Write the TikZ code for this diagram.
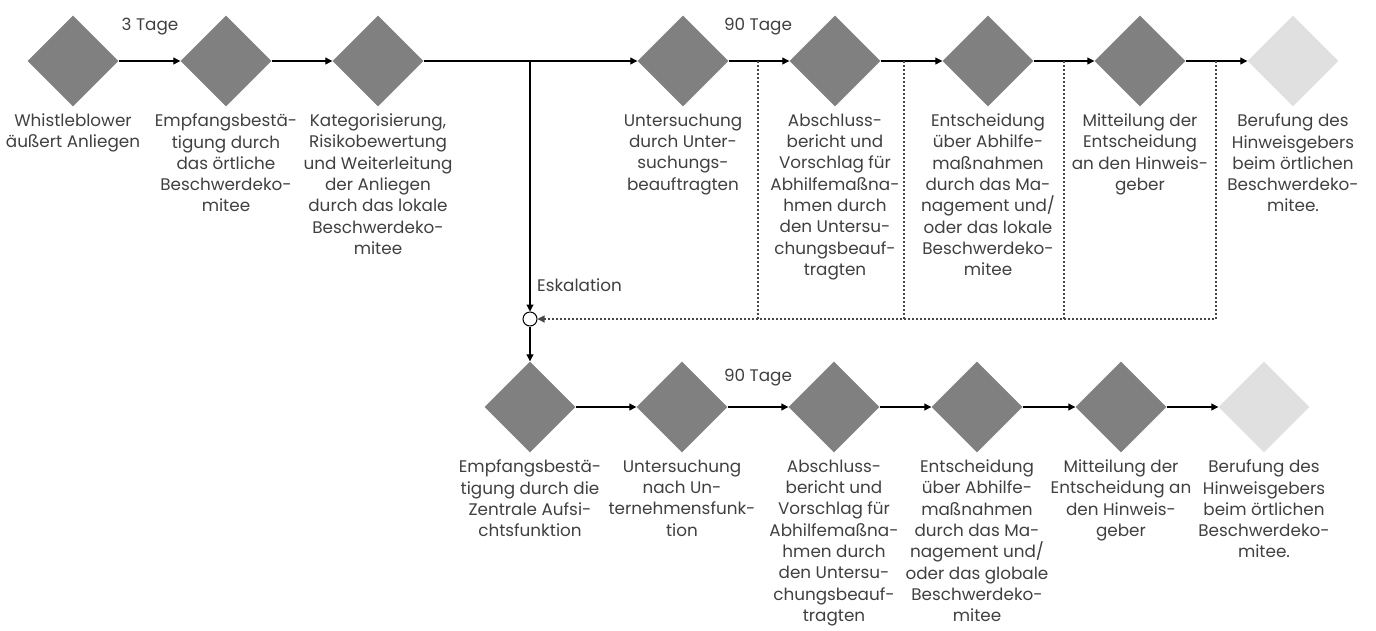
\documentclass[tikz,border=0pt]{standalone}
\usepackage{fontspec}
\setmainfont{Poppins}
\usetikzlibrary{shapes.geometric,arrows.meta,positioning}
\definecolor{stepgray}{RGB}{128,128,128}
\definecolor{opengray}{RGB}{224,224,224}
\definecolor{textgray}{RGB}{64,64,64}
\definecolor{dotgray}{RGB}{70,70,70}

\begin{document}
\begin{tikzpicture}[x=1pt, y=-1pt,
    stepnode/.style={diamond, fill=stepgray, minimum size=91pt, inner sep=0pt},
    opennode/.style={stepnode, fill=opengray},
    desc/.style={align=center, text=textgray, inner sep=0pt,
        font=\fontsize{16.8}{21.3}\selectfont},
    flow/.style={-{Triangle[length=7pt,width=7pt]}, line width=1.1pt},
    back/.style={dotgray, dash pattern=on 2pt off 2pt, line width=1.1pt}]
    \useasboundingbox (0,0) rectangle (1376,630);

    % Top row
    \node[stepnode] (t1) at (73,61) {};
    \node[stepnode] (t2) at (226,61) {};
    \node[stepnode] (t3) at (378,61) {};
    \node[stepnode] (t4) at (683,61) {};
    \node[stepnode] (t5) at (835,61) {};
    \node[stepnode] (t6) at (988,61) {};
    \node[stepnode] (t7) at (1140,61) {};
    \node[opennode] (t8) at (1293,61) {};

    \node[desc, below=7pt of t1] (t1text) {Whistleblower\\äußert Anliegen};
    \node[desc, below=7pt of t2] (t2text) {Empfangsbestä-\\tigung durch\\das örtliche\\Beschwerdeko-\\mitee};
    \node[desc, below=7pt of t3] (t3text) {Kategorisierung,\\Risikobewertung\\und Weiterleitung\\der Anliegen\\durch das lokale\\Beschwerdeko-\\mitee};
    \node[desc, below=7pt of t4] (t4text) {Untersuchung\\durch Unter-\\suchungs-\\beauftragten};
    \node[desc, below=7pt of t5] (t5text) {Abschluss-\\bericht und\\Vorschlag für\\Abhilfemaßna-\\hmen durch\\den Untersu-\\chungsbeauf-\\tragten};
    \node[desc, below=7pt of t6] (t6text) {Entscheidung\\über Abhilfe-\\maßnahmen\\durch das Ma-\\nagement und/\\oder das lokale\\Beschwerdeko-\\mitee};
    \node[desc, below=7pt of t7] (t7text) {Mitteilung der\\Entscheidung\\an den Hinweis-\\geber};
    \node[desc, below=7pt of t8] (t8text) {Berufung des\\Hinweisgebers\\beim örtlichen\\Beschwerdeko-\\mitee.};

    % Bottom row
    \node[stepnode] (b1) at (530,407) {};
    \node[stepnode] (b2) at (682,407) {};
    \node[stepnode] (b3) at (834,407) {};
    \node[stepnode] (b4) at (977,407) {};
    \node[stepnode] (b5) at (1121,407) {};
    \node[opennode] (b6) at (1264,407) {};

    \node[desc, below=7pt of b1] (b1text) {Empfangsbestä-\\tigung durch die\\Zentrale Aufsi-\\chtsfunktion};
    \node[desc, below=7pt of b2] (b2text) {Untersuchung\\nach Un-\\ternehmensfunk-\\tion};
    \node[desc, below=7pt of b3] (b3text) {Abschluss-\\bericht und\\Vorschlag für\\Abhilfemaßna-\\hmen durch\\den Untersu-\\chungsbeauf-\\tragten};
    \node[desc, below=7pt of b4] (b4text) {Entscheidung\\über Abhilfe-\\maßnahmen\\durch das Ma-\\nagement und/\\oder das globale\\Beschwerdeko-\\mitee};
    \node[desc, below=7pt of b5] (b5text) {Mitteilung der\\Entscheidung an\\den Hinweis-\\geber};
    \node[desc, below=7pt of b6] (b6text) {Berufung des\\Hinweisgebers\\beim örtlichen\\Beschwerdeko-\\mitee.};

    % Durations
    \node[desc] (days3) at (150,27) {3 Tage};
    \node[desc] (days90top) at (758,27) {90 Tage};
    \node[desc] (days90bot) at (758,378) {90 Tage};

    % Escalation
    \coordinate (split) at (530,61);
    \node[circle, draw, line width=1pt, fill=white, minimum size=14pt, inner sep=0pt] (merge) at (530,319) {};
    \node[desc, anchor=west] (esc) at (537,285) {Eskalation};

    % Flow arrows
    \draw[flow] (t1) -- (t2);
    \draw[flow] (t2) -- (t3);
    \draw[flow] (t3) -- (t4);
    \draw[flow] (t4) -- (t5);
    \draw[flow] (t5) -- (t6);
    \draw[flow] (t6) -- (t7);
    \draw[flow] (t7) -- (t8);
    \draw[flow] (split) -- (merge);
    \draw[flow] (merge) -- (b1);
    \draw[flow] (b1) -- (b2);
    \draw[flow] (b2) -- (b3);
    \draw[flow] (b3) -- (b4);
    \draw[flow] (b4) -- (b5);
    \draw[flow] (b5) -- (b6);

    % Way back
    \coordinate (r1) at (758,61);
    \coordinate (r2) at (904,61);
    \coordinate (r3) at (1064,61);
    \coordinate (r4) at (1216,61);
    \foreach \r in {r1,r2,r3} {
        \draw[back] (\r) -- (\r |- merge);
    }
    \draw[back, -{Triangle[length=7pt,width=7pt]}] (r4) -- (r4 |- merge) -- (merge);
\end{tikzpicture}
\end{document}
